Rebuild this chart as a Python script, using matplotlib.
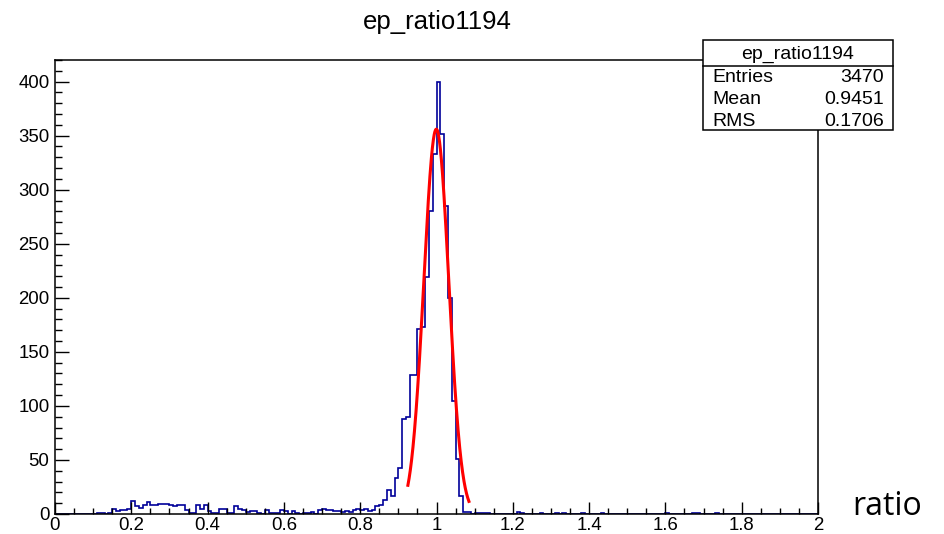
import numpy as np
import matplotlib
matplotlib.use("Agg")
import matplotlib.pyplot as plt
from matplotlib.ticker import MultipleLocator
from matplotlib.patches import Rectangle

plt.rcParams['font.family'] = ['Liberation Sans', 'DejaVu Sans']

# histogram ep_ratio1194: 200 bins from 0 to 2
n_bins = 200
x_lo, x_hi = 0.0, 2.0
counts = [
    0, 0, 0, 0, 0, 0, 0, 0, 0, 0,
    0, 1, 1, 0, 1, 5, 3, 4, 4, 5,
    12, 7, 6, 8, 11, 8, 8, 9, 9, 9,
    8, 7, 8, 8, 4, 1, 1, 8, 5, 8,
    3, 1, 1, 5, 5, 1, 1, 7, 5, 4,
    2, 3, 3, 1, 0, 4, 1, 1, 1, 4,
    3, 0, 3, 1, 0, 1, 1, 2, 0, 4,
    5, 4, 4, 3, 3, 2, 3, 2, 4, 5,
    4, 5, 3, 4, 7, 8, 13, 22, 17, 33,
    43, 88, 90, 129, 129, 171, 173, 219, 280, 333,
    400, 352, 285, 200, 105, 51, 17, 2, 2, 0,
    1, 1, 1, 1, 0, 0, 0, 0, 0, 0,
    0, 2, 1, 0, 0, 0, 0, 1, 0, 0,
    0, 1, 0, 1, 0, 0, 0, 0, 1, 0,
    0, 0, 0, 1, 0, 0, 0, 0, 0, 0,
    0, 0, 0, 0, 0, 0, 0, 0, 0, 0,
    1, 0, 0, 0, 0, 0, 0, 1, 1, 0,
    0, 0, 0, 1, 0, 0, 0, 0, 0, 0,
    0, 0, 0, 0, 0, 0, 0, 0, 0, 0,
    0, 0, 0, 0, 0, 0, 0, 0, 0, 0,
]

# gaussian fit (constant, mean, sigma) and fit range
fit_const = 356.0
fit_mean = 0.9995
fit_sigma = 0.0327
fit_range = (0.925, 1.085)

# stats box
hist_name = "ep_ratio1194"
stat_labels = ["Entries", "Mean", "RMS"]
stat_values = ["3470", "0.9451", "0.1706"]

W, H = 945, 534
fig = plt.figure(figsize=(W / 100, H / 100), dpi=100)
ax = fig.add_axes([55 / W, 1 - 514 / H, (818 - 55) / W, (514 - 60) / H])

edges = np.linspace(x_lo, x_hi, n_bins + 1)
ax.stairs(counts, edges, color="#000099", lw=1.2)

xf = np.linspace(fit_range[0], fit_range[1], 300)
yf = fit_const * np.exp(-0.5 * ((xf - fit_mean) / fit_sigma) ** 2)
ax.plot(xf, yf, color="red", lw=2.2)

ax.set_xlim(x_lo, x_hi)
ax.set_ylim(0, 420)
ax.xaxis.set_major_locator(MultipleLocator(0.2))
ax.xaxis.set_minor_locator(MultipleLocator(0.05))
ax.yaxis.set_major_locator(MultipleLocator(50))
ax.yaxis.set_minor_locator(MultipleLocator(10))
ax.xaxis.set_major_formatter(plt.FuncFormatter(lambda v, p: "%g" % round(v, 2)))

ax.tick_params(axis="x", which="major", direction="in", length=8.5, width=1, labelsize=13.4, pad=2)
ax.tick_params(axis="x", which="minor", direction="in", length=4.3, width=1)
ax.tick_params(axis="y", which="major", direction="in", length=10, width=1, labelsize=13.4, pad=4)
ax.tick_params(axis="y", which="minor", direction="in", length=5, width=1)
for s in ax.spines.values():
    s.set_linewidth(1.1)

fig.text(437 / W, 1 - 22 / H, hist_name, ha="center", va="center", fontsize=18.5)
fig.text(922 / W, 1 - 515 / H, "ratio", ha="right", va="baseline",
         fontsize=23, family="Open Sans")

# stats box (pixel coords converted to figure fraction)
bx0, bx1, by0, by1 = 703, 893, 40, 130
fig.patches.append(Rectangle((bx0 / W, 1 - by1 / H), (bx1 - bx0) / W, (by1 - by0) / H,
                             transform=fig.transFigure, facecolor="white",
                             edgecolor="black", lw=1.1, zorder=5))
fig.add_artist(plt.Line2D([bx0 / W, bx1 / W], [1 - 66 / H, 1 - 66 / H],
                          transform=fig.transFigure, color="black", lw=1.1, zorder=6))
fig.text((bx0 + bx1) / 2 / W, 1 - 54 / H, hist_name, ha="center", va="center",
         fontsize=14, zorder=7)
row_y = [77, 100, 122]
for lab, val, ry in zip(stat_labels, stat_values, row_y):
    fig.text(712 / W, 1 - ry / H, lab, ha="left", va="center", fontsize=14, zorder=7)
    fig.text(884 / W, 1 - ry / H, val, ha="right", va="center", fontsize=14, zorder=7)

fig.savefig("out.png", dpi=100)
